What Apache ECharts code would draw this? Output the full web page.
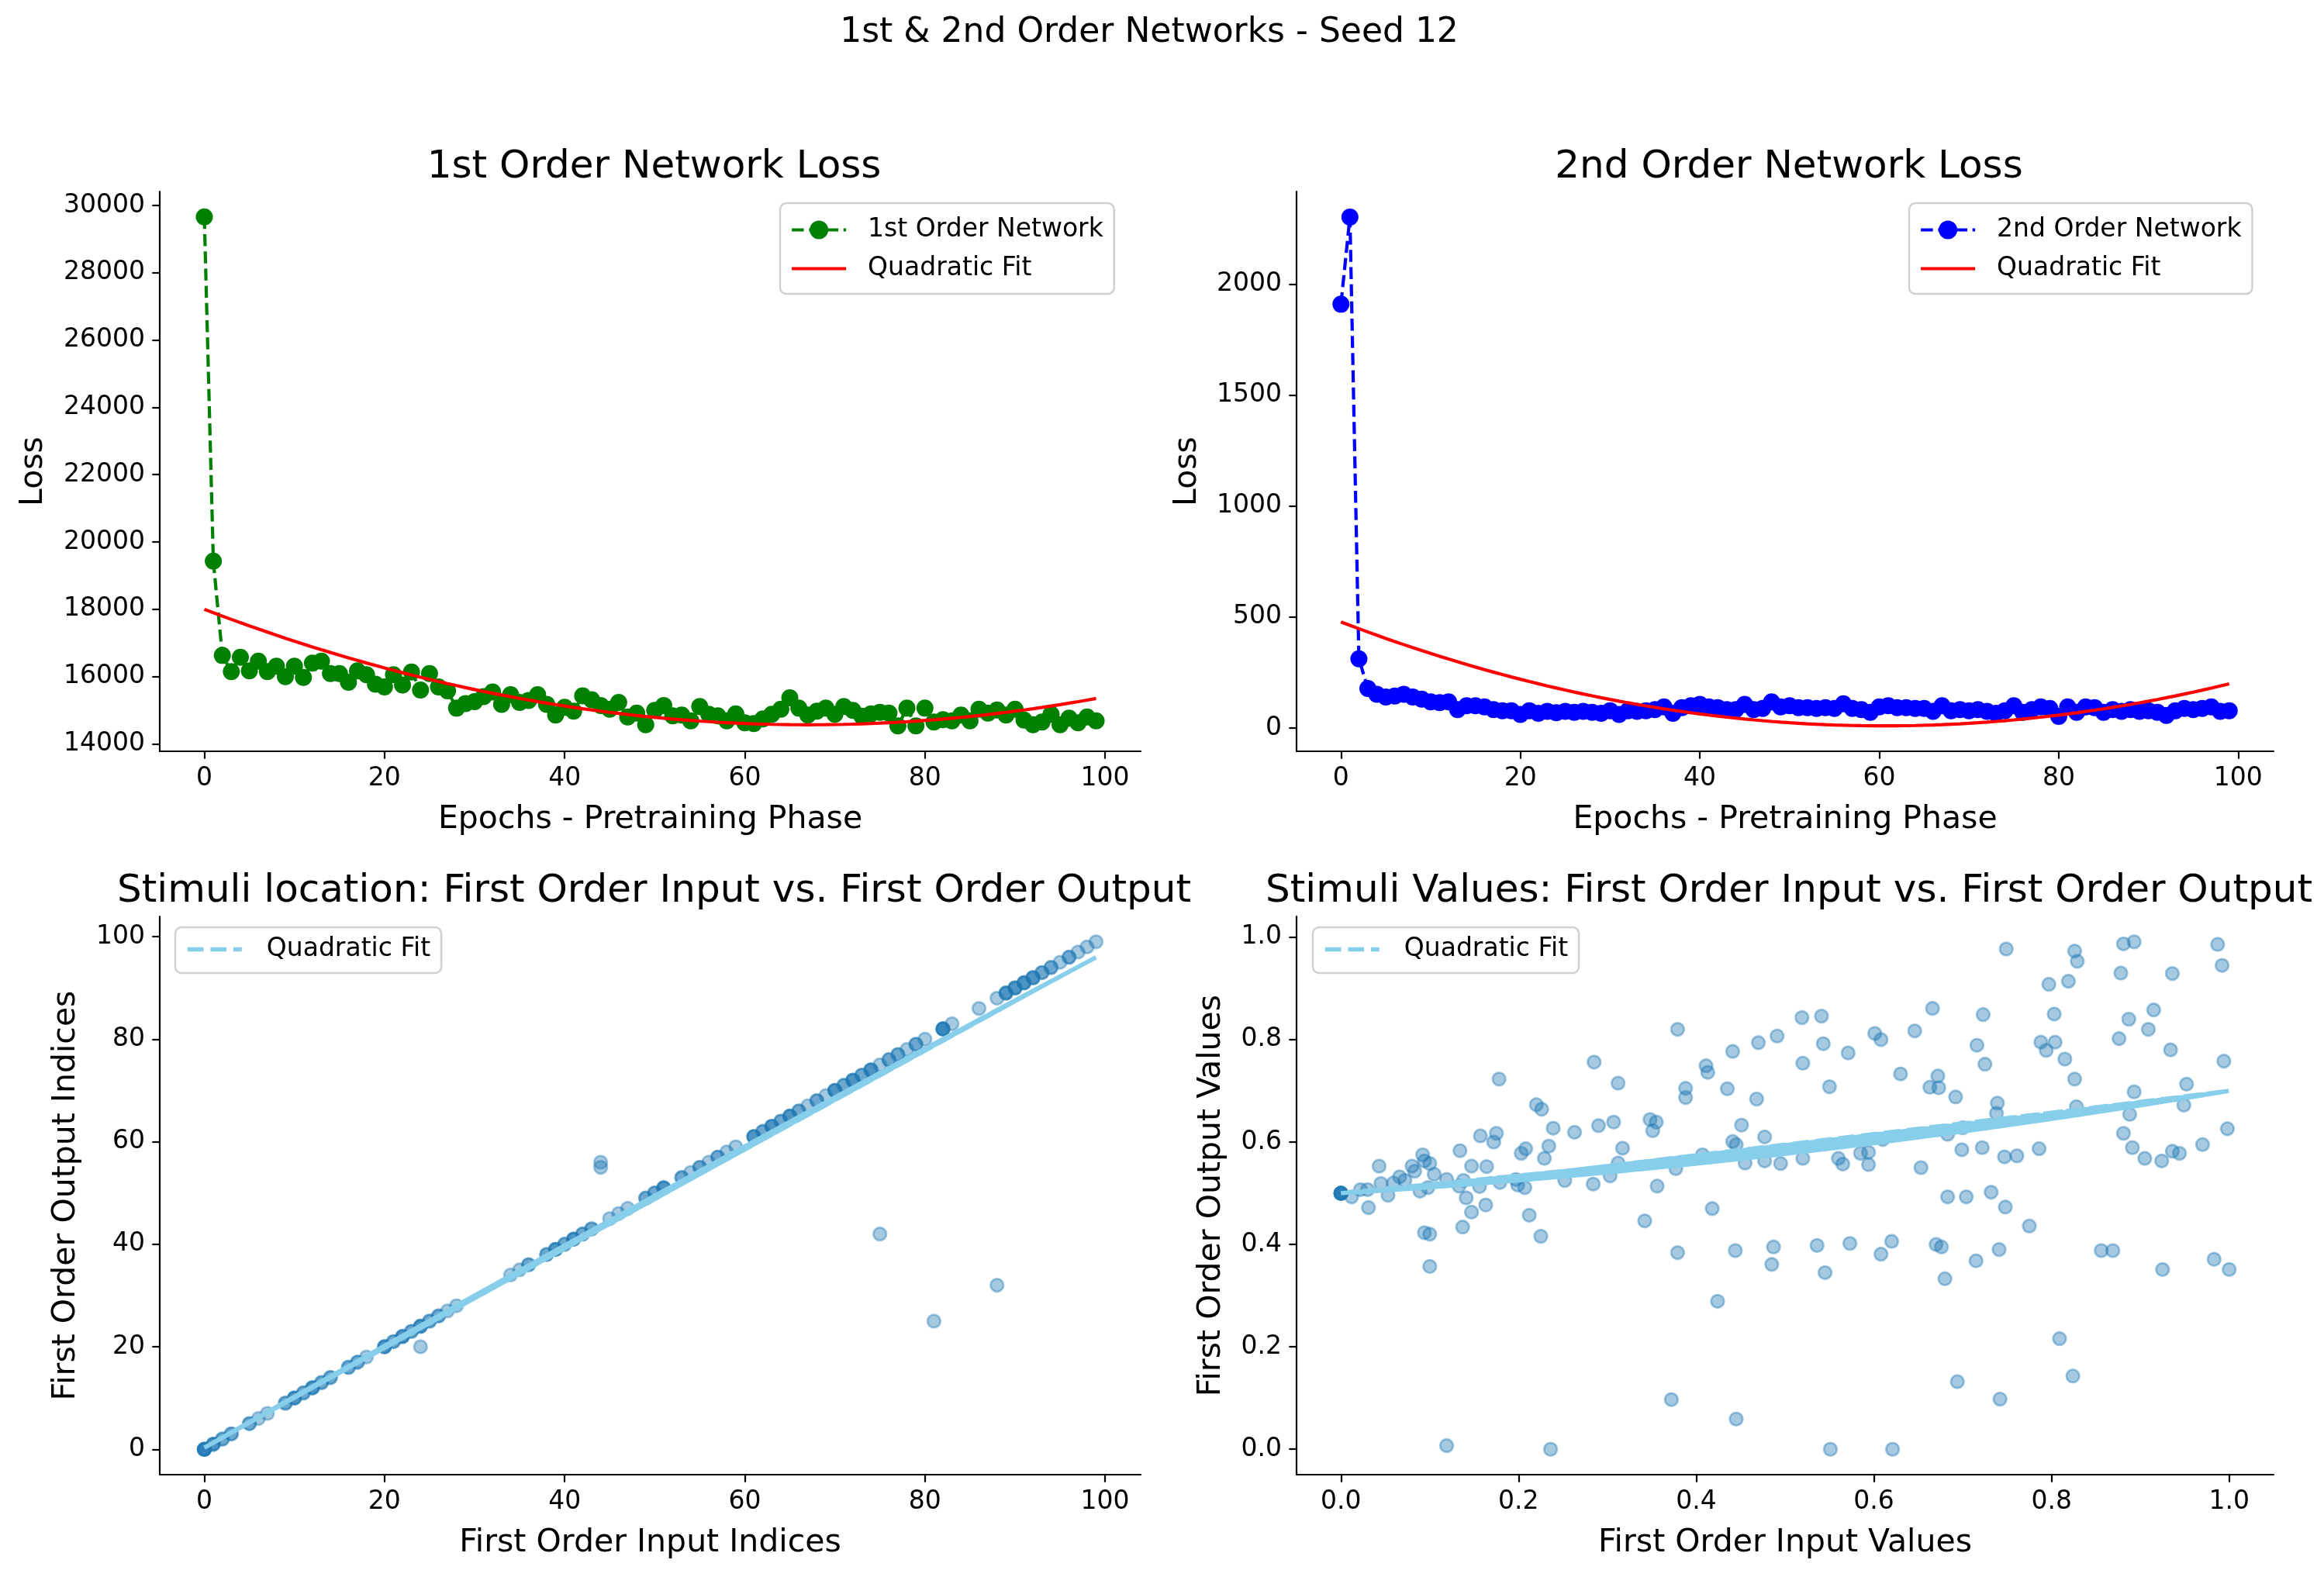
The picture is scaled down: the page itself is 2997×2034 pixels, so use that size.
<!DOCTYPE html>
<html>
<head>
<meta charset="utf-8">
<script src="https://cdn.jsdelivr.net/npm/echarts@6/dist/echarts.min.js"></script>
<style>
html,body{margin:0;padding:0;background:#ffffff;}
#chart{width:2997px;height:2034px;}
</style>
</head>
<body>
<div id="chart"></div>
<script>
// ---------------- DATA ----------------
const epochs = [];
for (let i = 0; i < 100; i++) epochs.push(i);

const lossFirst = [29657,19429,16629,16149,16572,16172,16457,16149,16309,16000,
16309,15977,16400,16457,16092,16092,15829,16172,16057,15772,
15692,16057,15749,16137,15600,16092,15692,15577,15063,15200,
15257,15406,15543,15177,15463,15234,15292,15463,15177,14857,
15086,14971,15429,15314,15143,15029,15234,14800,14914,14571,
14994,15143,14834,14857,14686,15109,14880,14834,14686,14891,
14629,14606,14743,14880,15029,15372,15063,14857,14971,15063,
14880,15109,14994,14823,14891,14937,14914,14537,15063,14537,
15063,14651,14720,14686,14857,14686,15029,14914,15006,14857,
15029,14709,14571,14651,14880,14571,14766,14629,14800,14686];

const lossSecond = [1910,2303,312,178,152,140,144,152,140,130,
118,114,118,83,100,100,95,83,78,78,
61,78,66,75,69,75,71,75,71,66,
78,61,78,75,78,83,95,66,92,100,
106,95,92,83,83,106,83,88,118,95,
100,92,92,88,92,88,109,88,83,71,
95,100,92,92,88,88,75,100,78,83,
78,83,75,66,78,100,71,83,95,88,
52,95,71,95,92,71,83,75,83,75,
78,71,57,78,88,83,88,95,75,78];

// quadratic fit coefficients [a, b, c] for y = a*x^2 + b*x + c
const fitFirstCoef = [0.764, -102.4, 18000];
const fitSecondCoef = [0.1279, -15.48, 478];

// Stimuli location: indices on the diagonal, repeats, outliers
const locDiagonal = [0,1,2,3,5,6,7,9,10,11,12,13,14,16,17,18,20,21,22,23,24,25,26,27,28,
34,35,36,38,39,40,41,42,43,45,46,47,49,50,51,53,54,55,56,57,58,59,61,62,63,64,65,66,67,68,69,
70,71,72,73,74,75,76,77,78,79,80,82,83,86,88,89,90,91,92,93,94,95,96,97,98,99];
const locRepeats = [0,0,0,1,2,3,5,9,10,11,12,13,14,16,17,20,21,22,23,24,25,26,36,38,39,40,41,42,43,
49,50,51,53,55,57,61,62,63,64,65,66,68,70,71,72,73,74,76,77,79,82,82,89,90,91,92,93,94,96,
0,1,10,12,20,22,24,39,41,51,61,63,65,70,72,74,82,89,90,91,92];
const locOutlierInput = [44,44,24,75,81,88];
const locOutlierOutput = [55,56,20,42,25,32];
const fitLocCoef = [-0.000338, 1.0, 0.3];

// Stimuli values
const valInput = [0.749,0.826,0.829,0.881,0.893,0.987,0.992,0.797,0.819,0.878,0.936,0.666,0.519,0.541,0.723,0.803,0.887,0.915,
0.379,0.491,0.601,0.608,0.646,0.909,0.876,0.470,0.543,0.716,0.788,0.804,0.794,0.441,0.571,0.934,0.815,0.285,0.520,0.725,0.994,
0.411,0.413,0.630,0.672,0.178,0.826,0.312,0.952,0.388,0.435,0.550,0.663,0.673,0.893,0.388,0.468,0.692,0.739,0.828,0.949,0.220,
0.226,0.738,0.888,0.348,0.355,0.307,0.290,0.451,0.351,0.239,0.263,0.998,0.157,0.175,0.172,0.881,0.683,0.477,0.441,0.445,0.234,
0.317,0.970,0.891,0.786,0.699,0.722,0.208,0.203,0.134,0.585,0.594,0.747,0.761,0.936,0.944,0.092,0.094,0.100,0.080,0.043,0.147,
0.164,0.229,0.560,0.565,0.520,0.905,0.924,0.477,0.455,0.495,0.594,0.653,0.312,0.377,0.105,0.083,0.066,0.072,0.119,0.138,0.303,
0.252,0.284,0.197,0.179,0.199,0.045,0.059,0.207,0.133,0.156,0.098,0.089,0.053,0.012,0.022,0.030,0.356,0.683,0.704,0.732,0.141,
0.031,0.748,0.163,0.418,0.147,0.212,0.342,0.775,0.137,0.094,0.100,0.225,0.620,0.573,0.536,0.487,0.670,0.676,0.741,0.856,0.869,
0.379,0.444,0.608,0.715,0.983,0.100,0.485,0.545,0.925,1.000,0.680,0.424,0.809,0.694,0.824,0.372,0.742,0.445,0.119,0.236,0.551,
0.621,0.407,0.610,0.700,0,0,0,0,0,0];
const valOutput = [0.977,0.973,0.953,0.987,0.991,0.986,0.945,0.908,0.914,0.930,0.929,0.861,0.843,0.846,0.849,0.850,0.840,0.858,
0.820,0.807,0.812,0.800,0.817,0.820,0.802,0.794,0.792,0.789,0.795,0.795,0.779,0.777,0.774,0.780,0.762,0.756,0.754,0.752,0.758,
0.749,0.736,0.733,0.729,0.723,0.723,0.715,0.713,0.705,0.704,0.708,0.707,0.706,0.698,0.687,0.684,0.688,0.676,0.669,0.672,0.673,
0.664,0.656,0.654,0.644,0.639,0.639,0.632,0.633,0.622,0.627,0.619,0.626,0.612,0.617,0.600,0.617,0.615,0.610,0.601,0.595,0.592,
0.588,0.595,0.589,0.587,0.585,0.589,0.587,0.578,0.583,0.578,0.580,0.571,0.573,0.582,0.578,0.575,0.563,0.558,0.553,0.553,0.553,
0.552,0.568,0.568,0.557,0.568,0.568,0.563,0.563,0.559,0.558,0.556,0.550,0.559,0.548,0.537,0.543,0.532,0.525,0.527,0.525,0.534,
0.525,0.518,0.527,0.521,0.516,0.519,0.520,0.511,0.514,0.513,0.511,0.504,0.496,0.493,0.507,0.507,0.514,0.493,0.493,0.502,0.491,
0.472,0.473,0.477,0.470,0.463,0.457,0.446,0.436,0.434,0.423,0.420,0.416,0.406,0.402,0.398,0.395,0.400,0.395,0.390,0.388,0.388,
0.384,0.388,0.381,0.368,0.371,0.357,0.361,0.345,0.351,0.351,0.333,0.289,0.216,0.132,0.143,0.097,0.098,0.059,0.007,0.000,0.000,
0.000,0.575,0.605,0.628,0.5,0.5,0.5,0.5,0.5,0.5];
const fitValCoef = [0.092, 0.108, 0.5];

// tick labels
const lossFirstTicks = [14000,16000,18000,20000,22000,24000,26000,28000,30000];
const lossSecondTicks = [0,500,1000,1500,2000];
const epochTicks = [0,20,40,60,80,100];
const indexTicks = [0,20,40,60,80,100];
const unitTicks = [0,0.2,0.4,0.6,0.8,1.0];

// ---------------- BUILD ----------------
const poly = (c, x) => c[0] * x * x + c[1] * x + c[2];
const locInput = locDiagonal.concat(locRepeats).concat(locOutlierInput);
const locOutput = locDiagonal.concat(locRepeats).concat(locOutlierOutput);

// the fit line is drawn through the input values in an unsorted (data) order, as in the original
function gcd(a, b) { return b ? gcd(b, a % b) : a; }
function scrambled(arr) {
  const n = arr.length; let step = 37;
  while (gcd(step, n) !== 1) step++;
  const out = [];
  for (let k = 0; k < n; k++) out.push(arr[(k * step) % n]);
  return out;
}
const locInputDrawOrder = scrambled(locInput);

const FONT = 'DejaVu Sans';
const TICK = 33, LABEL = 41, TITLE = 50;
const legendNames = {first: '1st Order Network', second: '2nd Order Network',
  fitFirst: 'Quadratic Fit', fitSecond: 'Quadratic Fit', fitLoc: 'Quadratic Fit', fitVal: 'Quadratic Fit'};

const LW = 1265, RW = 1260;
const grids = [
  {left: 206, top: 247, width: LW, height: 722},
  {left: 1672, top: 247, width: RW, height: 722},
  {left: 206, top: 1182, width: LW, height: 720},
  {left: 1672, top: 1182, width: RW, height: 720}
];

function axisBase(extra) {
  return Object.assign({
    type: 'value',
    axisLine: {show: true, onZero: false, lineStyle: {color: '#000', width: 2.2}},
    axisTick: {show: true, length: 9.7, lineStyle: {color: '#000', width: 2.2}},
    axisLabel: {fontFamily: FONT, fontSize: TICK, color: '#000', margin: 19},
    splitLine: {show: false},
    nameLocation: 'middle',
    nameTextStyle: {fontFamily: FONT, fontSize: LABEL, color: '#000', lineHeight: LABEL}
  }, extra);
}
function withTicks(ax, ticks, fmt) {
  ax.axisTick.customValues = ticks;
  ax.axisLabel.customValues = ticks;
  ax.axisLabel.formatter = fmt || (v => String(v));
  return ax;
}

const xAxes = [
  withTicks(axisBase({gridIndex: 0, min: -4.95, max: 103.95, name: 'Epochs - Pretraining Phase', nameGap: 68}), epochTicks),
  withTicks(axisBase({gridIndex: 1, min: -4.95, max: 103.95, name: 'Epochs - Pretraining Phase', nameGap: 68}), epochTicks),
  withTicks(axisBase({gridIndex: 2, min: -4.95, max: 103.95, name: 'First Order Input Indices', nameGap: 68}), indexTicks),
  withTicks(axisBase({gridIndex: 3, min: -0.05, max: 1.05, name: 'First Order Input Values', nameGap: 68}), unitTicks, v => v.toFixed(1))
];
const yAxes = [
  withTicks(axisBase({gridIndex: 0, min: 13781, max: 30413, name: 'Loss', nameGap: 142, nameRotate: 90}), lossFirstTicks),
  withTicks(axisBase({gridIndex: 1, min: -105, max: 2418, name: 'Loss', nameGap: 120, nameRotate: 90}), lossSecondTicks),
  withTicks(axisBase({gridIndex: 2, min: -4.95, max: 103.95, name: 'First Order Output Indices', nameGap: 100, nameRotate: 90}), indexTicks),
  withTicks(axisBase({gridIndex: 3, min: -0.0496, max: 1.0406, name: 'First Order Output Values', nameGap: 89, nameRotate: 90}), unitTicks, v => v.toFixed(1))
];

const DASH = [15.5, 6.7];
const FITDASH = [20.7, 8.9];
const SCATTER_STYLE = {color: 'rgba(31,119,180,0.5)', borderColor: 'rgba(31,119,180,0.5)', borderWidth: 2.8};

const series = [
  {name: 'first', type: 'line', xAxisIndex: 0, yAxisIndex: 0,
   data: epochs.map(i => [i, lossFirst[i]]),
   symbol: 'circle', symbolSize: 22, showSymbol: true,
   lineStyle: {color: '#008000', width: 4.2, type: DASH},
   itemStyle: {color: '#008000', borderWidth: 0}, z: 2},
  {name: 'fitFirst', type: 'line', xAxisIndex: 0, yAxisIndex: 0,
   data: epochs.map(i => [i, poly(fitFirstCoef, i)]),
   symbol: 'none', lineStyle: {color: '#ff0000', width: 4.2}, itemStyle: {color: '#ff0000'}, z: 3},
  {name: 'second', type: 'line', xAxisIndex: 1, yAxisIndex: 1,
   data: epochs.map(i => [i, lossSecond[i]]),
   symbol: 'circle', symbolSize: 22, showSymbol: true,
   lineStyle: {color: '#0000ff', width: 4.2, type: DASH},
   itemStyle: {color: '#0000ff', borderWidth: 0}, z: 2},
  {name: 'fitSecond', type: 'line', xAxisIndex: 1, yAxisIndex: 1,
   data: epochs.map(i => [i, poly(fitSecondCoef, i)]),
   symbol: 'none', lineStyle: {color: '#ff0000', width: 4.2}, itemStyle: {color: '#ff0000'}, z: 3},
  {name: 'locScatter', type: 'scatter', xAxisIndex: 2, yAxisIndex: 2,
   data: locInput.map((x, i) => [x, locOutput[i]]),
   symbol: 'circle', symbolSize: 16.7, itemStyle: SCATTER_STYLE, z: 2},
  {name: 'fitLoc', type: 'line', xAxisIndex: 2, yAxisIndex: 2,
   data: locInputDrawOrder.map(x => [x, poly(fitLocCoef, x)]),
   symbol: 'none', lineStyle: {color: '#87ceeb', width: 5.6, type: FITDASH}, itemStyle: {color: '#87ceeb'}, z: 3},
  {name: 'valScatter', type: 'scatter', xAxisIndex: 3, yAxisIndex: 3,
   data: valInput.map((x, i) => [x, valOutput[i]]),
   symbol: 'circle', symbolSize: 16.7, itemStyle: SCATTER_STYLE, z: 2},
  {name: 'fitVal', type: 'line', xAxisIndex: 3, yAxisIndex: 3,
   data: valInput.map(x => [x, poly(fitValCoef, x)]),
   symbol: 'none', lineStyle: {color: '#87ceeb', width: 5.6, type: FITDASH}, itemStyle: {color: '#87ceeb'}, z: 3}
];
series.forEach(s => { s.animation = false; s.emphasis = {disabled: true}; s.silent = true; });

function legend(items, left, top, textPad, padding, gap, itemH) {
  return {
    show: true, orient: 'vertical', left: left, top: top,
    data: items,
    itemWidth: 70, itemHeight: itemH, itemGap: gap,
    padding: padding,
    backgroundColor: 'rgba(255,255,255,0.8)',
    borderColor: '#d0d0d0', borderWidth: 2.5, borderRadius: 8,
    selectedMode: false,
    formatter: n => '{t|' + (legendNames[n] || n) + '}',
    textStyle: {fontFamily: FONT, fontSize: TICK, color: '#000',
      rich: {t: {fontFamily: FONT, fontSize: TICK, color: '#000', lineHeight: 36, padding: [0, 0, 0, textPad]}}}
  };
}
const withMarker = (name, color) => ({name: name, lineStyle: {width: 4.2, color: color, type: DASH}});
const lineOnly = (name, color, dash) => ({name: name, itemStyle: {opacity: 0},
  lineStyle: {width: dash ? 5.6 : 4.2, color: color, type: dash ? FITDASH : 'solid'}});

function title(text, cx, top, size) {
  return {text: text, left: cx, top: top, textAlign: 'center',
    textStyle: {fontFamily: FONT, fontSize: size, fontWeight: 'normal', color: '#000', lineHeight: size}};
}

const option = {
  animation: false,
  backgroundColor: '#ffffff',
  title: [
    title('1st & 2nd Order Networks - Seed 12', 1477, 16, 44),
    title('1st Order Network Loss', 206 + LW / 2, 186, TITLE),
    title('2nd Order Network Loss', 1672 + RW / 2, 186, TITLE),
    title('Stimuli location: First Order Input vs. First Order Output', 206 + LW / 2, 1120, TITLE),
    title('Stimuli Values: First Order Input vs. First Order Output', 1672 + RW / 2, 1120, TITLE)
  ],
  legend: [
    legend([withMarker('first', '#008000'), lineOnly('fitFirst', '#ff0000', false)], 1006, 262, 23, [18, 14, 16, 13], 17, 30),
    legend([withMarker('second', '#0000ff'), lineOnly('fitSecond', '#ff0000', false)], 2462, 262, 23, [18, 14, 16, 13], 17, 30),
    legend([lineOnly('fitLoc', '#87ceeb', true)], 226, 1196, 27, [12, 14, 14, 13], 13, 22),
    legend([lineOnly('fitVal', '#87ceeb', true)], 1693, 1196, 27, [12, 14, 14, 13], 13, 22)
  ],
  grid: grids,
  xAxis: xAxes,
  yAxis: yAxes,
  series: series
};

const chart = echarts.init(document.getElementById('chart'), null, {renderer: 'canvas', width: 2997, height: 2034});
chart.setOption(option);
</script>
</body>
</html>
